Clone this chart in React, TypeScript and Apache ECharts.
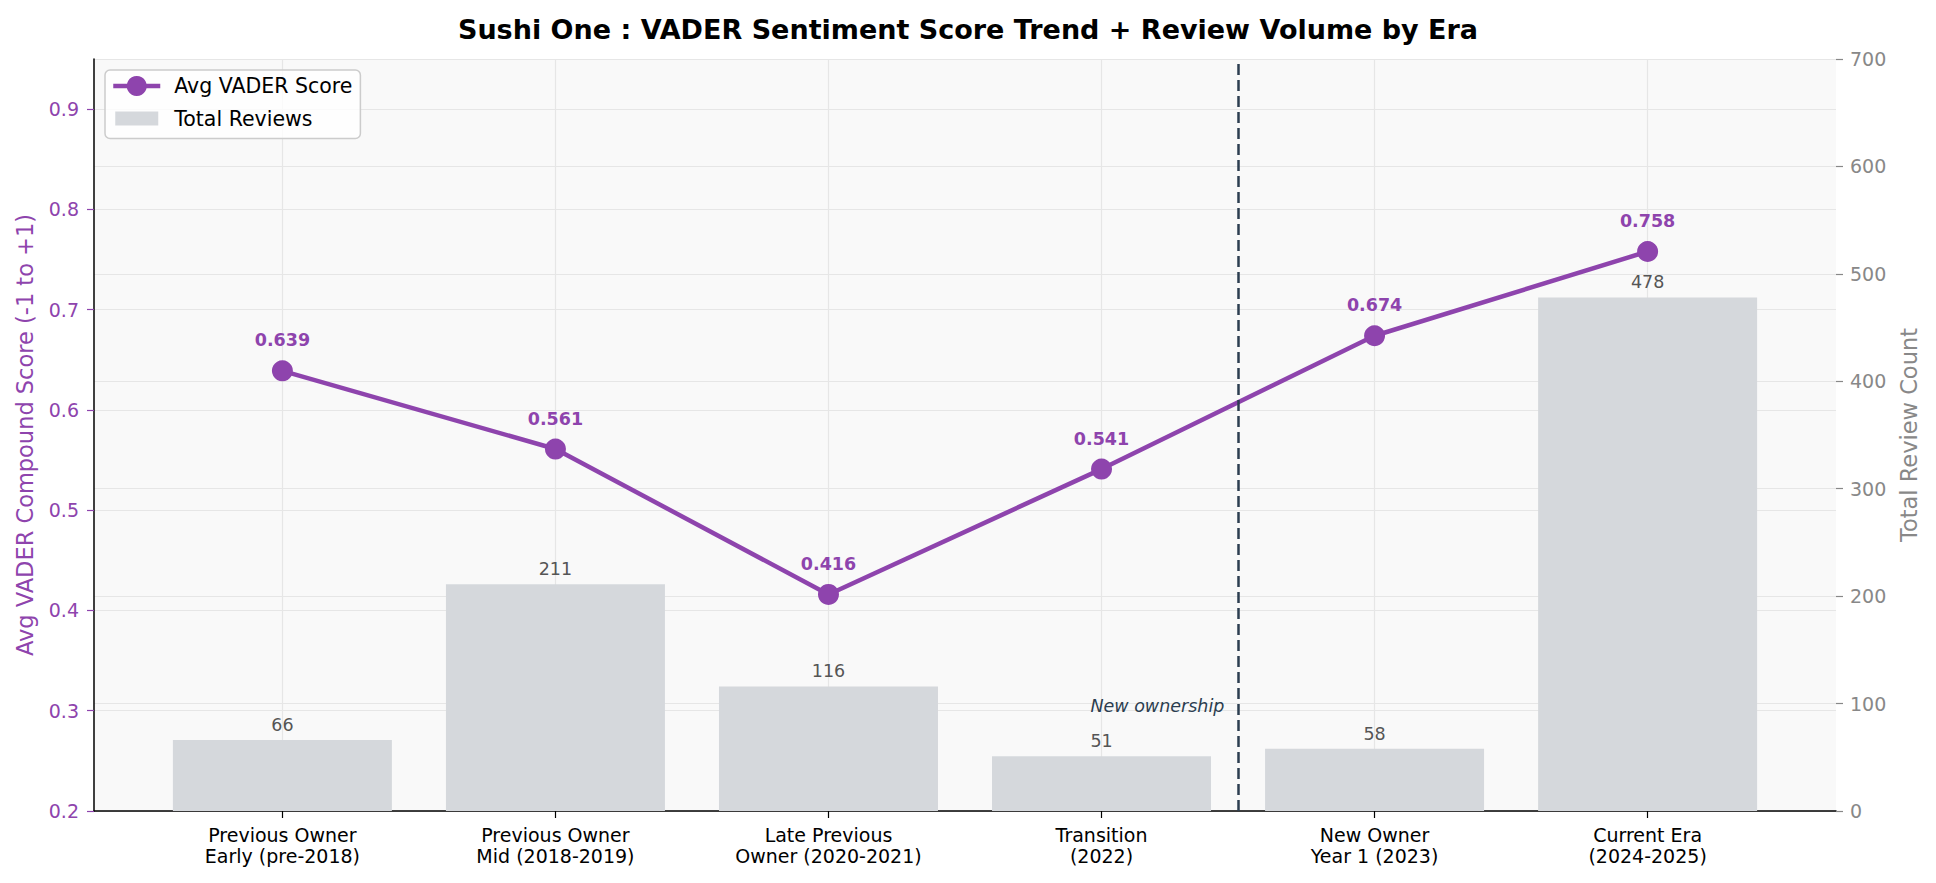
import React, { useEffect, useRef } from "react";
import * as echarts from "echarts";

const categories = [
  "Previous Owner\nEarly (pre-2018)",
  "Previous Owner\nMid (2018-2019)",
  "Late Previous\nOwner (2020-2021)",
  "Transition\n(2022)",
  "New Owner\nYear 1 (2023)",
  "Current Era\n(2024-2025)",
];
const vaderScores = [0.639, 0.561, 0.416, 0.541, 0.674, 0.758];
const reviewCounts = [66, 211, 116, 51, 58, 478];
const leftTicks = [0.2, 0.3, 0.4, 0.5, 0.6, 0.7, 0.8, 0.9];
const ownershipChangeX = 3.5;
const annotation = { text: "New ownership", x: 3.45, y: 0.3 };

const PURPLE = "#8E44AD";
const BAR = "#D5D8DC";
const GRID = "#e6e6e6";
const FONT = "DejaVu Sans";

export default function App() {
  const ref = useRef<HTMLDivElement>(null);
  useEffect(() => {
    document.body.style.margin = "0";
    if (!ref.current) return;
    const chart = echarts.init(ref.current, null, { renderer: "svg" });
    const idx = categories.map((_, i) => i);
    chart.setOption({
      animation: false,
      backgroundColor: "#ffffff",
      textStyle: { fontFamily: FONT },
      title: {
        text: "Sushi One : VADER Sentiment Score Trend + Review Volume by Era",
        left: "center",
        top: 11,
        textStyle: { fontFamily: FONT, fontSize: 27, fontWeight: "bold", color: "#000" },
      },
      legend: {
        left: 105,
        top: 70,
        orient: "vertical",
        data: [
          { name: "Avg VADER Score", lineStyle: { width: 4.5, color: PURPLE } },
          {
            name: "Total Reviews",
            icon: "path://M0,0 M2,5.5 L45,5.5 L45,19.5 L2,19.5 Z M47,25",
          },
        ],
        itemWidth: 47,
        itemHeight: 25,
        itemGap: 9.5,
        padding: [5.5, 8, 7.5, 6],
        borderColor: "#cccccc",
        borderWidth: 1.5,
        borderRadius: 5,
        backgroundColor: "rgba(255,255,255,0.8)",
        textStyle: { fontFamily: FONT, fontSize: 20.5, color: "#000", padding: [0, 0, 0, 9] },
      },
      grid: {
        left: 94,
        right: 100,
        top: 59,
        bottom: 72,
        show: true,
        backgroundColor: "#f9f9f9",
        borderWidth: 0,
      },
      xAxis: {
        type: "value",
        min: -0.69,
        max: 5.69,
        axisLine: { show: true, onZero: false, lineStyle: { color: "#000", width: 1.5 } },
        axisTick: { show: true, customValues: idx, length: 7, lineStyle: { color: "#000", width: 1.2 } },
        axisLabel: {
          customValues: idx,
          formatter: (v: number) => categories[Math.round(v)] ?? "",
          fontFamily: FONT,
          fontSize: 19,
          lineHeight: 21,
          color: "#000",
          margin: 13,
        },
        splitLine: { show: true, lineStyle: { color: GRID, width: 1.2 } },
      },
      yAxis: [
        {
          type: "value",
          min: 0.2,
          max: 0.95,
          interval: 0.1,
          name: "Avg VADER Compound Score (-1 to +1)",
          nameLocation: "middle",
          nameGap: 58,
          nameTextStyle: { fontFamily: FONT, fontSize: 22.5, color: PURPLE },
          axisLine: { show: true, onZero: false, lineStyle: { color: "#000", width: 1.5 } },
          axisTick: { show: true, customValues: leftTicks, length: 7, lineStyle: { color: PURPLE, width: 1.2 } },
          axisLabel: {
            customValues: leftTicks,
            formatter: (v: number) => v.toFixed(1),
            fontFamily: FONT,
            fontSize: 19,
            color: PURPLE,
            margin: 15,
          },
          splitLine: { show: true, lineStyle: { color: GRID, width: 1.2 } },
        },
        {
          type: "value",
          min: 0,
          max: 700,
          interval: 100,
          name: "Total Review Count",
          nameLocation: "middle",
          nameGap: 60,
          nameTextStyle: { fontFamily: FONT, fontSize: 22.5, color: "#888888" },
          axisLine: { show: false, onZero: false },
          axisTick: { show: true, length: 7, lineStyle: { color: "#888888", width: 1.2 } },
          axisLabel: { fontFamily: FONT, fontSize: 19, color: "#888888", margin: 14 },
          splitLine: { show: true, lineStyle: { color: GRID, width: 1.2 } },
        },
      ],
      series: [
        {
          name: "Total Reviews",
          type: "bar",
          yAxisIndex: 1,
          barWidth: 219,
          itemStyle: { color: BAR },
          data: reviewCounts.map((c, i) => [i, c]),
          label: {
            show: true,
            position: "top",
            distance: 6,
            fontFamily: FONT,
            fontSize: 17.5,
            color: "#555555",
            formatter: (p: any) => String(p.value[1]),
          },
          z: 1,
        },
        {
          name: "Avg VADER Score",
          type: "line",
          yAxisIndex: 0,
          data: vaderScores.map((s, i) => [i, s]),
          symbol: "circle",
          symbolSize: 21,
          itemStyle: { color: PURPLE },
          lineStyle: { color: PURPLE, width: 4.5 },
          label: {
            show: true,
            position: "top",
            distance: 11,
            fontFamily: FONT,
            fontSize: 17.5,
            fontWeight: "bold",
            color: PURPLE,
            formatter: (p: any) => p.value[1].toFixed(3),
          },
          z: 3,
          markLine: {
            silent: true,
            symbol: ["none", "none"],
            label: { show: false },
            lineStyle: { color: "#2C3E50", width: 2.5, type: [11, 5] },
            data: [{ xAxis: ownershipChangeX }],
            z: 5,
          },
          markPoint: {
            silent: true,
            symbol: "circle",
            symbolSize: 0,
            itemStyle: { color: "transparent" },
            label: {
              show: true,
              position: "left",
              distance: 0,
              offset: [0, -5],
              formatter: annotation.text,
              fontFamily: FONT,
              fontStyle: "italic",
              fontSize: 17.5,
              color: "#2C3E50",
            },
            data: [{ coord: [annotation.x, annotation.y] }],
          },
        },
      ],
    });
    return () => chart.dispose();
  }, []);
  return <div ref={ref} style={{ width: 1936, height: 883 }} />;
}
